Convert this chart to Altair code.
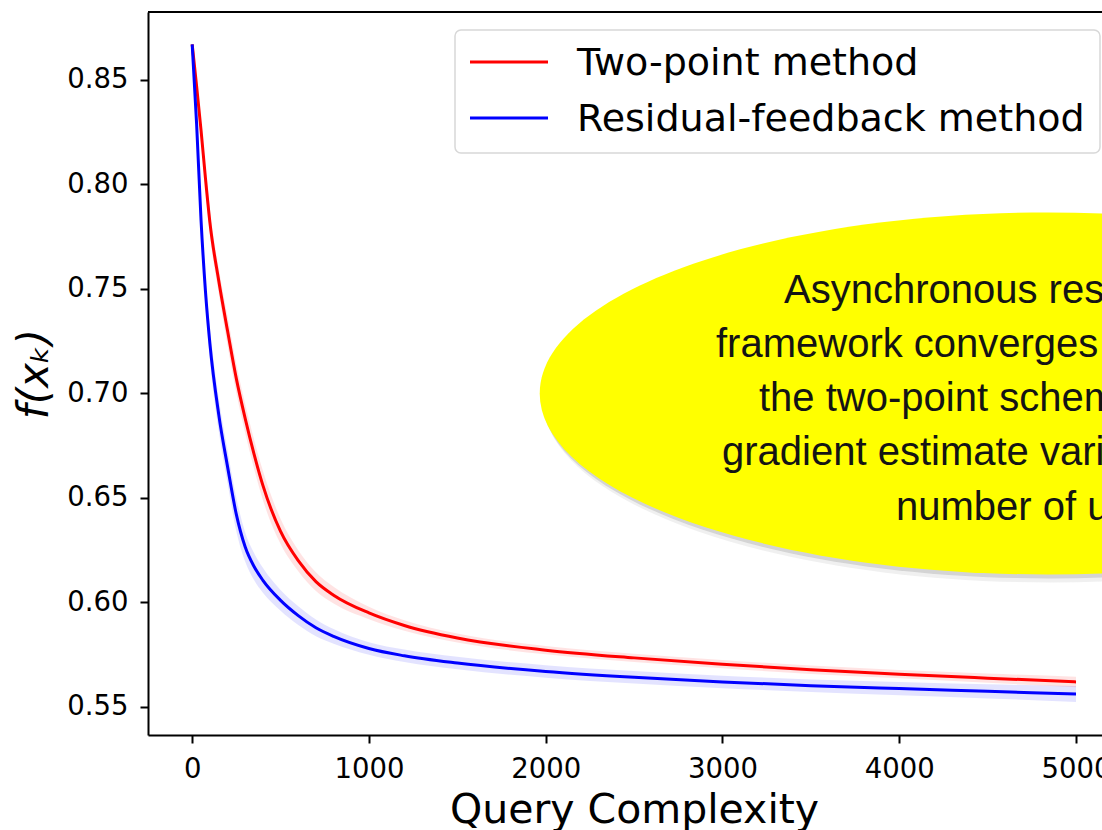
import altair as alt
import pandas as pd

# ---------------- data ----------------
queries = [0, 25, 50, 75, 100, 150, 200, 250, 300, 350, 400, 500, 600, 700, 800,
           1000, 1200, 1500, 2000, 2500, 3000, 3500, 4000, 4500, 5000]
two_point = [0.867, 0.847, 0.826, 0.803, 0.782, 0.754, 0.730, 0.707, 0.688, 0.671, 0.656,
             0.634, 0.620, 0.610, 0.6035, 0.595, 0.589, 0.583, 0.5772, 0.5735,
             0.5705, 0.5678, 0.5657, 0.5638, 0.5620]
two_point_spread = [0.0, 0.003, 0.004, 0.005, 0.006, 0.006, 0.007, 0.007, 0.007, 0.007, 0.007,
                    0.006, 0.005, 0.0045, 0.004, 0.003, 0.0025, 0.0022, 0.002, 0.002,
                    0.002, 0.002, 0.002, 0.0022, 0.0025]
residual = [0.867, 0.829, 0.783, 0.749, 0.724, 0.690, 0.665, 0.642, 0.6265, 0.6172, 0.6106,
            0.601, 0.5937, 0.5879, 0.5838, 0.578, 0.5745, 0.571, 0.567, 0.5642,
            0.5620, 0.5602, 0.5588, 0.5575, 0.5562]
residual_spread = [0.0, 0.004, 0.006, 0.007, 0.008, 0.008, 0.008, 0.008, 0.007, 0.0065, 0.006,
                   0.005, 0.0045, 0.004, 0.0035, 0.003, 0.003, 0.003, 0.003, 0.003,
                   0.003, 0.003, 0.0032, 0.0034, 0.0038]
series_names = ["Two-point method", "Residual-feedback method"]
series_colors = ["#ff0000", "#0000ff"]
x_ticks = [0, 1000, 2000, 3000, 4000, 5000]
y_ticks = [0.55, 0.60, 0.65, 0.70, 0.75, 0.80, 0.85]
note_lines = [
    "Asynchronous residual-feedback",
    "framework converges faster than",
    "the two-point scheme due to smaller",
    "gradient estimate variance and a smaller",
    "number of updates",
]
note_center_q = [4840]
note_center_f = [0.700]

# ---------------- tables ----------------
rows = []
for name, vals, spr in [(series_names[0], two_point, two_point_spread),
                        (series_names[1], residual, residual_spread)]:
    for q, v, s in zip(queries, vals, spr):
        rows.append({"series": name, "q": q, "f": v, "lo": v - s, "hi": v + s})
df = pd.DataFrame(rows)
note_df = pd.DataFrame({"q": note_center_q, "f": note_center_f,
                        "lo": note_center_f, "hi": note_center_f, "series": ["note"]})
one = pd.DataFrame({"a": [0]})

W, H = 954, 723
FONT = "DejaVu Sans"
NOTE_FONT = "Liberation Sans"

xs = alt.Scale(domain=[-250, 5147], nice=False, zero=False)
ys = alt.Scale(domain=[0.5366, 0.8825], nice=False, zero=False)

x_axis = alt.Axis(values=x_ticks, format="d", grid=False, labelFont=FONT, labelFontSize=27.5,
                  labelColor="black", labelPadding=12, tickSize=8, tickWidth=2, tickColor="black",
                  domainColor="black", domainWidth=2, titleFont=FONT, titleFontSize=41,
                  titleFontWeight="normal", titleColor="black", titleX=486, titleY=87,
                  titleAlign="center", titleBaseline="alphabetic")
y_axis = alt.Axis(values=y_ticks, format=".2f", grid=False, labelFont=FONT, labelFontSize=27.5,
                  labelColor="black", labelPadding=12, tickSize=8, tickWidth=2, tickColor="black",
                  domainColor="black", domainWidth=2, titleFont=FONT, titleFontSize=42,
                  titleFontWeight="normal", titleFontStyle="italic", titleColor="black",
                  titleAngle=270, titleX=-101, titleY=361.5, titleAlign="center",
                  titleBaseline="alphabetic")

X = alt.X("q:Q", scale=xs, axis=x_axis, title="Query Complexity")
Y = alt.Y("f:Q", scale=ys, axis=y_axis, title="f(xₖ)")
Ylo = alt.Y("lo:Q", scale=ys, axis=y_axis, title="f(xₖ)")

layers = []
for name, col in zip(series_names, series_colors):
    band = alt.Chart(df).transform_filter(alt.datum.series == name).mark_area(
        color=col, opacity=0.11, interpolate="monotone").encode(x=X, y=Ylo, y2="hi:Q")
    layers.append(band)
for name, col in zip(series_names, series_colors):
    line = alt.Chart(df).transform_filter(alt.datum.series == name).mark_line(
        color=col, strokeWidth=3, interpolate="monotone").encode(x=X, y=Y)
    layers.append(line)

# ---------------- ellipse annotation ----------------
ellipse_path = "M -1 0 A 1 0.3563 0 1 1 1 0 A 1 0.3563 0 1 1 -1 0 Z"
ell_size = 1016 ** 2
for dx, dy, op in [(4, 8, 0.12), (2, 4, 0.25)]:
    layers.append(alt.Chart(note_df).mark_point(
        shape=ellipse_path, size=ell_size, filled=True, color="#808080", opacity=op,
        strokeWidth=0, xOffset=dx, yOffset=dy).encode(x=X, y=Y))
layers.append(alt.Chart(note_df).mark_point(
    shape=ellipse_path, size=ell_size, filled=True, color="#ffff00", opacity=1,
    strokeWidth=0).encode(x=X, y=Y))

note_x = [636, 568, 611, 574, 748]
note_y = [291, 345, 399, 453, 508]
for txt, nx, ny in zip(note_lines, note_x, note_y):
    layers.append(alt.Chart(one).mark_text(
        align="left", baseline="alphabetic", font=NOTE_FONT, fontSize=40, color="#141414").encode(
        x=alt.value(nx), y=alt.value(ny), text=alt.value(txt)))

# ---------------- top frame ----------------
layers.append(alt.Chart(one).mark_rule(color="black", strokeWidth=2).encode(
    x=alt.value(0), x2=alt.value(W), y=alt.value(0)))

# ---------------- legend ----------------
layers.append(alt.Chart(one).mark_rect(
    fill="white", stroke="#d4d4d4", strokeWidth=1.5, cornerRadius=6, opacity=0.9).encode(
    x=alt.value(307), x2=alt.value(952), y=alt.value(18), y2=alt.value(141)))
for i, (name, col) in enumerate(zip(series_names, series_colors)):
    ly = 50 + 56 * i
    layers.append(alt.Chart(one).mark_rule(color=col, strokeWidth=3).encode(
        x=alt.value(322), x2=alt.value(400), y=alt.value(ly)))
    layers.append(alt.Chart(one).mark_text(
        align="left", baseline="alphabetic", font=FONT, fontSize=38, color="black").encode(
        x=alt.value(429), y=alt.value(ly + 13), text=alt.value(name)))

chart = alt.layer(*layers).properties(
    width=W, height=H,
    autosize=alt.AutoSizeParams(type="none"),
    padding={"left": 148, "top": 12, "right": 0, "bottom": 95},
    background="white",
).configure_view(stroke=None)

chart.save("out.html", embed_options={"renderer": "svg", "actions": False})
